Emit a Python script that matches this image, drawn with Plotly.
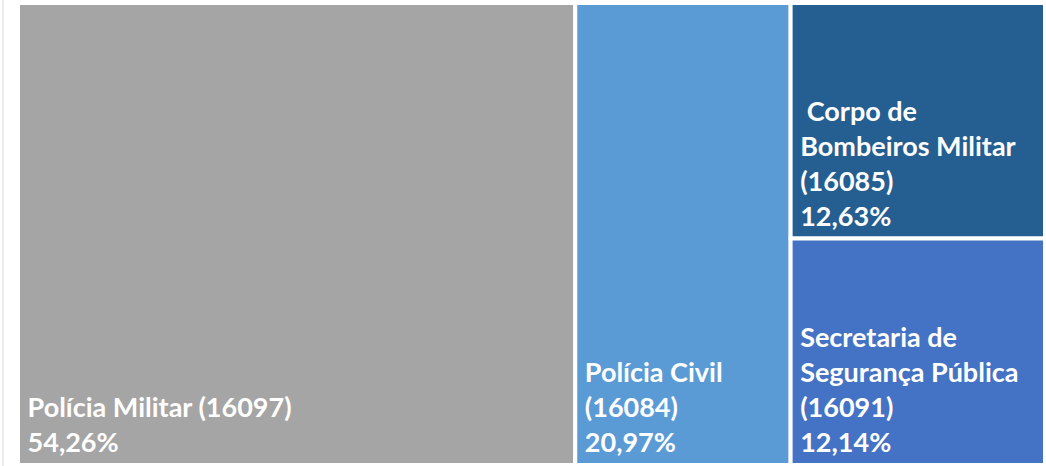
import plotly.graph_objects as go

# Data
ids = ["pm", "pc", "cbm", "ssp"]
names = ["Polícia Militar", "Polícia Civil", "Corpo de Bombeiros Militar", "Secretaria de Segurança Pública"]
display_lines = [["Polícia Militar (16097)"],
                 ["Polícia Civil", "(16084)"],
                 [" Corpo de", "Bombeiros Militar", "(16085)"],
                 ["Secretaria de", "Segurança Pública", "(16091)"]]
shares = [54.26, 20.97, 12.63, 12.14]
share_labels = ["54,26%", "20,97%", "12,63%", "12,14%"]
colors = ["#A5A5A5", "#5B9BD5", "#255E91", "#4472C4"]

# invisible subscript at the end lifts the text block slightly off the tile bottom
spacer = "<sub><span style='color:rgba(0,0,0,0)'>.</span></sub>"
texts = ["<br>".join(" " + ln for ln in lines + [s]) + spacer
         for lines, s in zip(display_lines, share_labels)]

fig = go.Figure(go.Treemap(
    ids=ids,
    labels=names,
    parents=[""] * len(ids),
    values=shares,
    text=texts,
    texttemplate="%{text}",
    textposition="bottom left",
    sort=False,
    tiling=dict(packing="binary", pad=0),
    pathbar=dict(visible=False),
    marker=dict(colors=colors, line=dict(color="white", width=4),
                pad=dict(t=0, l=0, r=0, b=0)),
    textfont=dict(family="Lato", size=27, color="white", weight="bold"),
    hoverinfo="label+value",
))

fig.update_layout(
    width=1046, height=466,
    margin=dict(l=18, r=1, t=3, b=1),
    paper_bgcolor="white",
    plot_bgcolor="white",
    shapes=[dict(type="line", xref="paper", yref="paper", x0=-0.0146, x1=-0.0146, y0=-0.01, y1=1.01,
                 line=dict(color="#D9D9D9", width=1))],
)

fig.write_html("out.html",
               config={"displayModeBar": False},
               post_script="document.body.style.margin='0';document.body.style.overflow='hidden';")
